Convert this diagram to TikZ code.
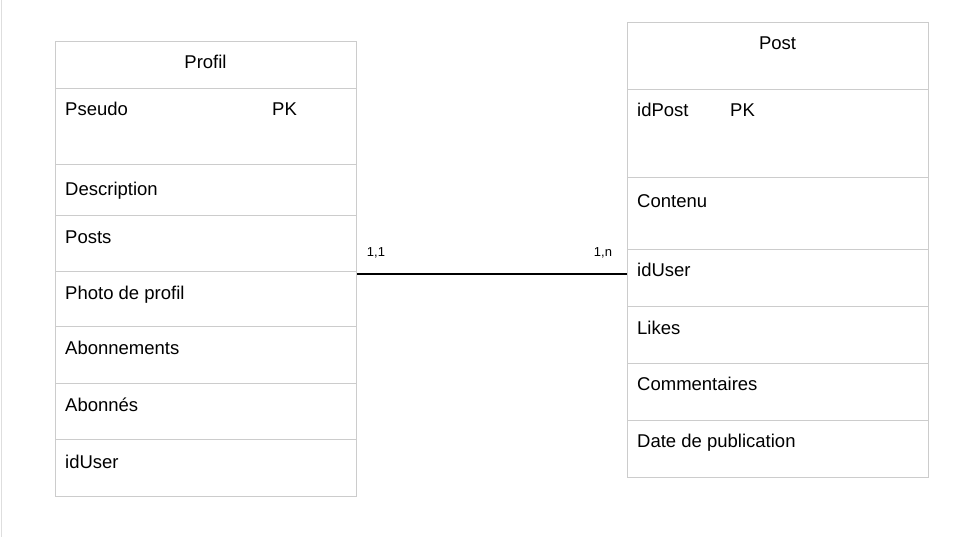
\documentclass[tikz,border=0pt]{standalone}
\usepackage{fontspec}
\setmainfont{Liberation Sans}

\definecolor{gridgray}{RGB}{204,204,204}
\definecolor{edgegray}{RGB}{222,222,222}

\tikzset{
  cell/.style={draw=gridgray,line width=1pt,anchor=north west,inner sep=0pt,minimum width=301pt},
  field/.style={anchor=base west,inner sep=0pt,font=\fontsize{18.5}{21}\selectfont},
  heading/.style={field,anchor=base},
  card/.style={anchor=base,inner sep=0pt,font=\fontsize{13}{15}\selectfont},
  link/.style={draw=black,line width=1.6pt}
}

\begin{document}
\begin{tikzpicture}[x=1pt,y=-1pt]
  \fill[white] (0,0) rectangle (957,537);
  \useasboundingbox (0,0) rectangle (957,537);
  \draw[edgegray,line width=1.5pt] (1.5,0) -- (1.5,537);

  % table Profil
  \node[cell,minimum height=47pt] (pf-head) at (55,41) {};
  \node[heading] (pf-title) at (205.5,68.7) {Profil};
  \foreach \nm/\top/\ht/\base/\txt in {pseudo/88/76/28/Pseudo, descr/164/51/31.5/Description,
      posts/215/56/28/Posts, photo/271/55/28.5/Photo de profil, abos/326/57/28/Abonnements,
      abonnes/383/56/28/Abonnés, user/439/57/29/idUser}{
    \node[cell,minimum height=\ht pt] (pf-\nm) at (55,\top) {};
    \node[field] (pf-\nm-txt) at ([xshift=10pt,yshift=-\base pt]pf-\nm.north west) {\txt};
  }
  \node[field] (pf-pk) at ([xshift=207pt]pf-pseudo-txt.base west) {PK};

  % table Post
  \node[cell,minimum height=67pt] (po-head) at (627,22) {};
  \node[heading] (po-title) at (777.5,50) {Post};
  \foreach \nm/\top/\ht/\base/\txt in {idpost/89/88/27.7/idPost, contenu/177/72/30.3/Contenu,
      user/249/57/27.5/idUser, likes/306/57/28/Likes, comm/363/57/27.5/Commentaires,
      date/420/57/27.5/Date de publication}{
    \node[cell,minimum height=\ht pt] (po-\nm) at (627,\top) {};
    \node[field] (po-\nm-txt) at ([xshift=10pt,yshift=-\base pt]po-\nm.north west) {\txt};
  }
  \node[field] (po-pk) at ([xshift=93pt]po-idpost-txt.base west) {PK};

  % association
  \coordinate (ln-a) at ([yshift=-3pt]pf-photo.north east);
  \draw[link] (ln-a) -- (ln-a -| po-user.west);
  \node[card] (card-pf) at ([xshift=19pt,yshift=18pt]ln-a) {1,1};
  \node[card] (card-po) at ([xshift=-24pt,yshift=18pt]ln-a -| po-user.west) {1,n};
\end{tikzpicture}
\end{document}
